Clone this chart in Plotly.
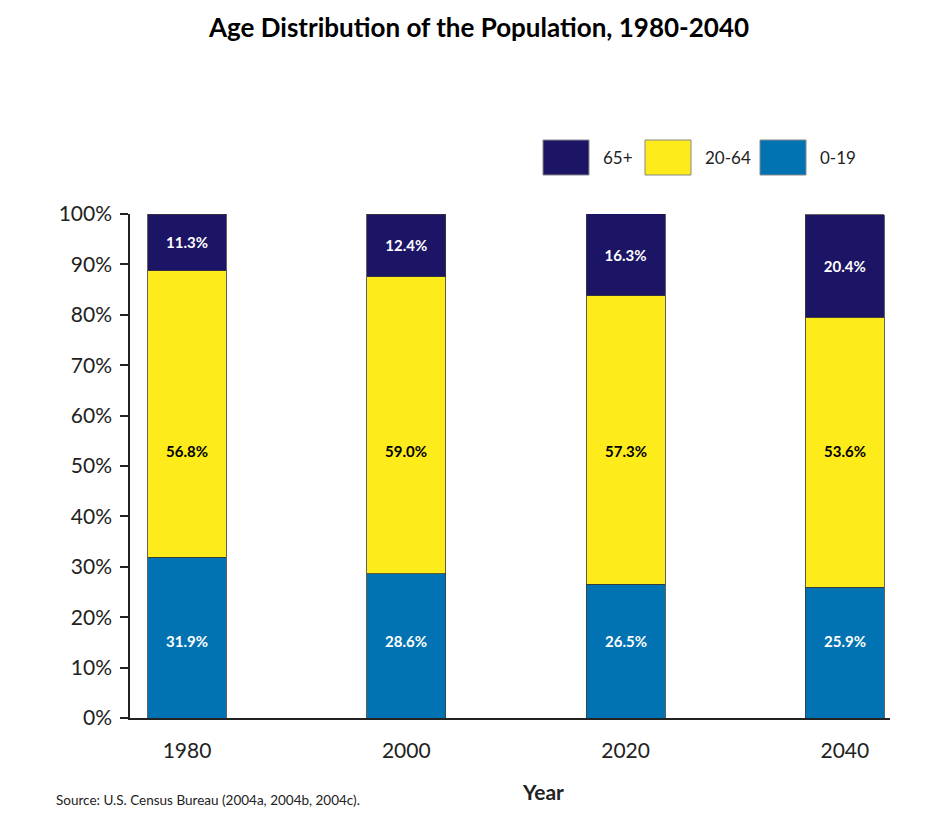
import plotly.graph_objects as go

years = ["1980", "2000", "2020", "2040"]
age_0_19 = [31.9, 28.6, 26.5, 25.9]
age_20_64 = [56.8, 59.0, 57.3, 53.6]
age_65_plus = [11.3, 12.4, 16.3, 20.4]
y_ticks = [0, 10, 20, 30, 40, 50, 60, 70, 80, 90, 100]
y_tick_labels = [f"{v}%" for v in y_ticks]

c_navy = "#1c1464"
c_yellow = "#fdeb1b"
c_blue = "#0173b3"

FONT = "Lato"
xs = list(range(len(years)))

W, H = 932, 805
ML, MR, MT, MB = 122, 50, 206, 95
PW, PH = W - ML - MR, H - MT - MB


def px(x):  # window x -> paper
    return (x - 8 - ML) / PW


def py(y):  # window y -> paper
    return (H - MB - (y - 8)) / PH


fig = go.Figure()
edge = dict(color="#3a3a3a", width=0.8)
fig.add_trace(go.Bar(x=xs, y=age_0_19, marker=dict(color=c_blue, line=edge), width=0.36, name="0-19"))
fig.add_trace(go.Bar(x=xs, y=age_20_64, marker=dict(color=c_yellow, line=edge), width=0.36, name="20-64"))
fig.add_trace(go.Bar(x=xs, y=age_65_plus, marker=dict(color=c_navy, line=edge), width=0.36, name="65+",
                     text=[f"{v:.1f}%" for v in age_65_plus], texttemplate="<b>%{text}</b>",
                     textposition="inside", insidetextanchor="middle", textangle=0,
                     textfont=dict(family=FONT, size=15, color="white")))

# value labels for the lower two segments
for i, (a, b) in enumerate(zip(age_0_19, age_20_64)):
    fig.add_annotation(x=i, y=15.3, xref="x", yref="y", text=f"<b>{a:.1f}%</b>", showarrow=False,
                       font=dict(family=FONT, size=15, color="white"))
    fig.add_annotation(x=i, y=53, xref="x", yref="y", text=f"<b>{b:.1f}%</b>", showarrow=False,
                       font=dict(family=FONT, size=15, color="black"))

fig.update_layout(
    width=W, height=H,
    barmode="stack",
    showlegend=False,
    plot_bgcolor="white", paper_bgcolor="white",
    margin=dict(l=ML, r=MR, t=MT, b=MB),
    font=dict(family=FONT, color="#222"),
)
fig.add_annotation(xref="paper", yref="paper", x=px(478), y=py(27),
                   text="<b>Age Distribution of the Population, 1980-2040</b>", showarrow=False,
                   xanchor="center", yanchor="middle", borderpad=0,
                   font=dict(family=FONT, size=26, color="black"))

fig.update_xaxes(range=[-0.26, 3.206], tickvals=xs, ticktext=years, showline=True,
                 linecolor="#222", linewidth=1.5, ticks="", showgrid=False, zeroline=False,
                 tickfont=dict(family=FONT, size=21, color="#222"), ticklabelstandoff=13)
fig.update_yaxes(range=[0, 100], tickvals=y_ticks, ticktext=y_tick_labels, showline=True,
                 linecolor="#222", linewidth=1.5, ticks="outside", ticklen=8, tickwidth=1.5,
                 tickcolor="#222", showgrid=False, zeroline=False, ticklabelstandoff=4,
                 tickfont=dict(family=FONT, size=21, color="#222"))

# custom legend
legend_items = [("65+", c_navy), ("20-64", c_yellow), ("0-19", c_blue)]
leg_x0 = [543, 645, 760]
for (name, col), x0 in zip(legend_items, leg_x0):
    fig.add_shape(type="rect", xref="paper", yref="paper",
                  x0=px(x0), x1=px(x0 + 46), y0=py(175), y1=py(140),
                  fillcolor=col, line=dict(color="#888", width=1))
    fig.add_annotation(xref="paper", yref="paper", x=px(x0 + 58), y=py(158), text=name,
                       showarrow=False, xanchor="left", yanchor="middle",
                       font=dict(family=FONT, size=17, color="#222"))

fig.add_annotation(xref="paper", yref="paper", x=px(543), y=py(791), text="<b>Year</b>",
                   showarrow=False, xanchor="center", yanchor="middle",
                   font=dict(family=FONT, size=21, color="#222"))
fig.add_annotation(xref="paper", yref="paper", x=px(54), y=py(800),
                   text="Source: U.S. Census Bureau (2004a, 2004b, 2004c).", showarrow=False,
                   xanchor="left", yanchor="middle",
                   font=dict(family=FONT, size=13.5, color="#222"))

fig.write_html("out.html")
